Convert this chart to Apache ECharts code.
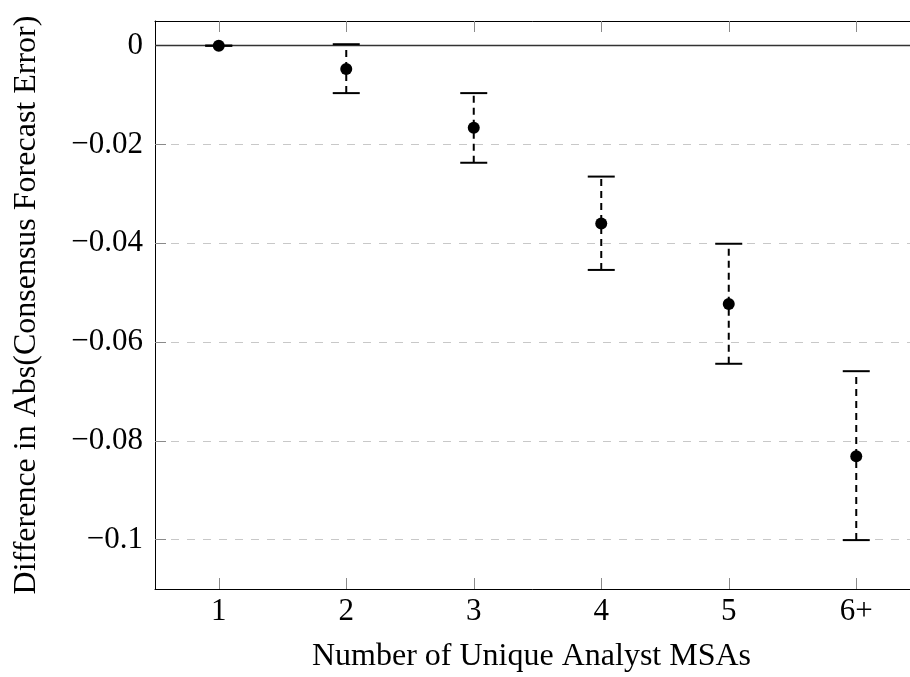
<!DOCTYPE html>
<html>
<head>
<meta charset="utf-8">
<script src="https://cdn.jsdelivr.net/npm/echarts@6/dist/echarts.min.js"></script>
<style>html,body{margin:0;padding:0;background:#fff}#c{width:910px;height:677px}</style>
</head>
<body>
<div id="c"></div>
<script>
var categories = ['1', '2', '3', '4', '5', '6+'];
var means = [0, -0.0047, -0.0166, -0.0360, -0.0523, -0.0831];
var upper = [0, 0.0003, -0.0096, -0.0265, -0.0401, -0.0659];
var lower = [0, -0.0096, -0.0237, -0.0454, -0.0644, -0.1001];
var yTicks = [0, -0.02, -0.04, -0.06, -0.08, -0.1];

var FONT = 'Liberation Serif';
var chart = echarts.init(document.getElementById('c'));

var errData = categories.map(function (c, i) { return [i, lower[i], upper[i]]; });
var ptData = categories.map(function (c, i) { return [i, means[i]]; });

function fmtY(v) {
  var r = Math.round(v * 1000) / 1000;
  var ok = yTicks.some(function (t) { return Math.abs(t - r) < 1e-9 && Math.abs(v - t) < 1e-6; });
  if (!ok) return '';
  if (r === 0) return '0';
  return String(r).replace('-', '\u2212');
}

var tickStyle = { show: true, inside: true, alignWithLabel: true, length: 11, lineStyle: { color: '#8a8a8a', width: 1 } };

chart.setOption({
  animation: false,
  backgroundColor: '#fff',
  grid: { left: 155, top: 21, right: -10, bottom: 88, containLabel: false, outerBoundsMode: 'none' },
  xAxis: [{
    type: 'category', data: categories, position: 'bottom', boundaryGap: true,
    axisLine: { show: true, onZero: false, lineStyle: { color: '#000', width: 1 } },
    axisTick: tickStyle,
    axisLabel: { fontFamily: FONT, fontSize: 31, color: '#000', margin: 7 },
    splitLine: { show: false },
    name: 'Number of Unique Analyst MSAs', nameLocation: 'middle', nameGap: 52,
    nameTextStyle: { fontFamily: FONT, fontSize: 32, color: '#000', padding: [0, 12, 0, 0] }
  }, {
    type: 'category', data: categories, position: 'top', boundaryGap: true,
    axisLine: { show: true, onZero: false, lineStyle: { color: '#000', width: 1 } },
    axisTick: tickStyle,
    axisLabel: { show: false }, splitLine: { show: false }
  }],
  yAxis: {
    type: 'value', min: -0.11, max: 0.005, splitNumber: 6,
    axisLine: { show: true, onZero: false, lineStyle: { color: '#000', width: 1 } },
    axisTick: { show: true, inside: true, length: 11, lineStyle: { color: '#8a8a8a', width: 1 } },
    axisLabel: { fontFamily: FONT, fontSize: 31, color: '#000', margin: 12, formatter: fmtY, showMinLabel: false, showMaxLabel: false },
    splitLine: { show: true, lineStyle: { color: '#c8c8c8', type: [8, 8], width: 1 } },
    name: 'Difference in Abs(Consensus Forecast Error)', nameLocation: 'middle', nameGap: 112, nameRotate: 90,
    nameTextStyle: { fontFamily: FONT, fontSize: 32, color: '#000' }
  },
  series: [{
    type: 'custom',
    xAxisIndex: 0,
    data: errData,
    renderItem: function (params, api) {
      var x = api.value(0);
      var lo = api.coord([x, api.value(1)]);
      var hi = api.coord([x, api.value(2)]);
      var hw = 13.5;
      var st = { stroke: '#000', lineWidth: 2 };
      return {
        type: 'group',
        children: [
          { type: 'line', shape: { x1: lo[0], y1: lo[1], x2: hi[0], y2: hi[1] },
            style: { stroke: '#000', lineWidth: 2, lineDash: [7, 5] } },
          { type: 'line', shape: { x1: lo[0] - hw, y1: lo[1], x2: lo[0] + hw, y2: lo[1] }, style: st },
          { type: 'line', shape: { x1: hi[0] - hw, y1: hi[1], x2: hi[0] + hw, y2: hi[1] }, style: st }
        ]
      };
    },
    z: 3
  }, {
    type: 'scatter',
    data: ptData,
    symbol: 'circle', symbolSize: 12,
    itemStyle: { color: '#000', opacity: 1 },
    z: 4,
    markLine: {
      silent: true, symbol: 'none', label: { show: false },
      lineStyle: { color: '#333', type: 'solid', width: 1.3 },
      data: [{ yAxis: 0 }],
      z: 2
    }
  }]
});
</script>
</body>
</html>
